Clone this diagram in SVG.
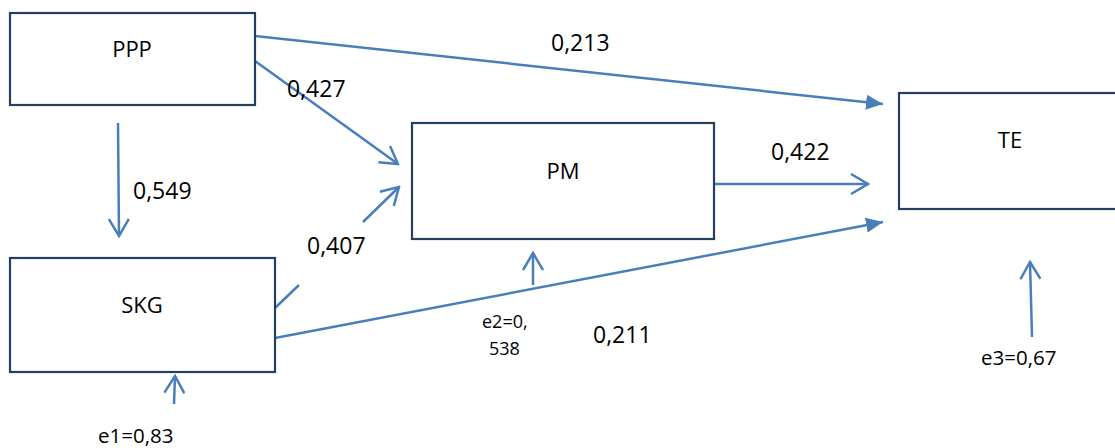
<svg xmlns="http://www.w3.org/2000/svg" width="1115" height="448" viewBox="0 0 1115 448">
<style>
.box{fill:#fff;stroke:#243f60;stroke-width:2.2}
.nt{font-family:"Open Sans","Noto Sans",sans-serif;font-size:22px;fill:#000;text-anchor:middle}
.w{font-family:"Open Sans","Noto Sans",sans-serif;font-size:23px;fill:#000}
.e{font-family:"Open Sans","Noto Sans",sans-serif;font-size:20.5px;fill:#000}
.e2{font-family:"Open Sans","Noto Sans",sans-serif;font-size:18px;fill:#000}
.c{fill:none;stroke:#4a7ebb;stroke-width:2.5}
.open{marker-end:url(#open)}
.fill{marker-end:url(#solid)}
</style>
<defs>
<marker id="open" viewBox="0 0 20 22" refX="18" refY="11" markerWidth="20" markerHeight="22" markerUnits="userSpaceOnUse" orient="auto">
<path d="M1,1 L18,11 L1,21" fill="none" stroke="#4a7ebb" stroke-width="2.5"/>
</marker>
<marker id="solid" viewBox="0 0 17 15" refX="17" refY="7.5" markerWidth="17" markerHeight="15" markerUnits="userSpaceOnUse" orient="auto">
<path d="M0,0 L17,7.5 L0,15 Z" fill="#4a7ebb"/>
</marker>
</defs>
<rect width="1115" height="448" fill="#fff"/>
<g id="connectors">
<line class="c fill" x1="255" y1="36" x2="883" y2="104"/>
<line class="c open" x1="255" y1="61" x2="398" y2="164"/>
<line class="c open" x1="118" y1="123" x2="119" y2="236"/>
<path class="c open" d="M275,308 L299,285 M363,222 L399,187"/>
<line class="c open" x1="715" y1="184" x2="868" y2="184"/>
<line class="c fill" x1="275" y1="338" x2="883" y2="222"/>
<line class="c open" x1="533" y1="285" x2="533" y2="253"/>
<line class="c open" x1="174" y1="404" x2="175" y2="376"/>
<line class="c open" x1="1032" y1="337" x2="1030" y2="262"/>
</g>
<g id="labels">
<text class="w" x="551" y="51">0,213</text>
<text class="w" x="287" y="97">0,427</text>
<text class="w" x="133" y="199">0,549</text>
<text class="w" x="307" y="254">0,407</text>
<text class="w" x="771" y="160">0,422</text>
<text class="w" x="593" y="343">0,211</text>
<text class="e2" x="482" y="328">e2=0,</text>
<text class="e2" x="489" y="355">538</text>
<text class="e" x="98" y="443">e1=0,83</text>
<text class="e" x="981" y="365">e3=0,67</text>
</g>
<g id="PPP">
<rect class="box" x="10" y="13" width="245" height="92"/>
<text class="nt" x="132" y="57">PPP</text>
</g>
<g id="SKG">
<rect class="box" x="10" y="258" width="265" height="114"/>
<text class="nt" x="142" y="313">SKG</text>
</g>
<g id="PM">
<rect class="box" x="412" y="123" width="302" height="116"/>
<text class="nt" x="563" y="179">PM</text>
</g>
<g id="TE">
<rect class="box" x="899" y="93" width="230" height="116"/>
<text class="nt" x="1010" y="148">TE</text>
</g>
</svg>
